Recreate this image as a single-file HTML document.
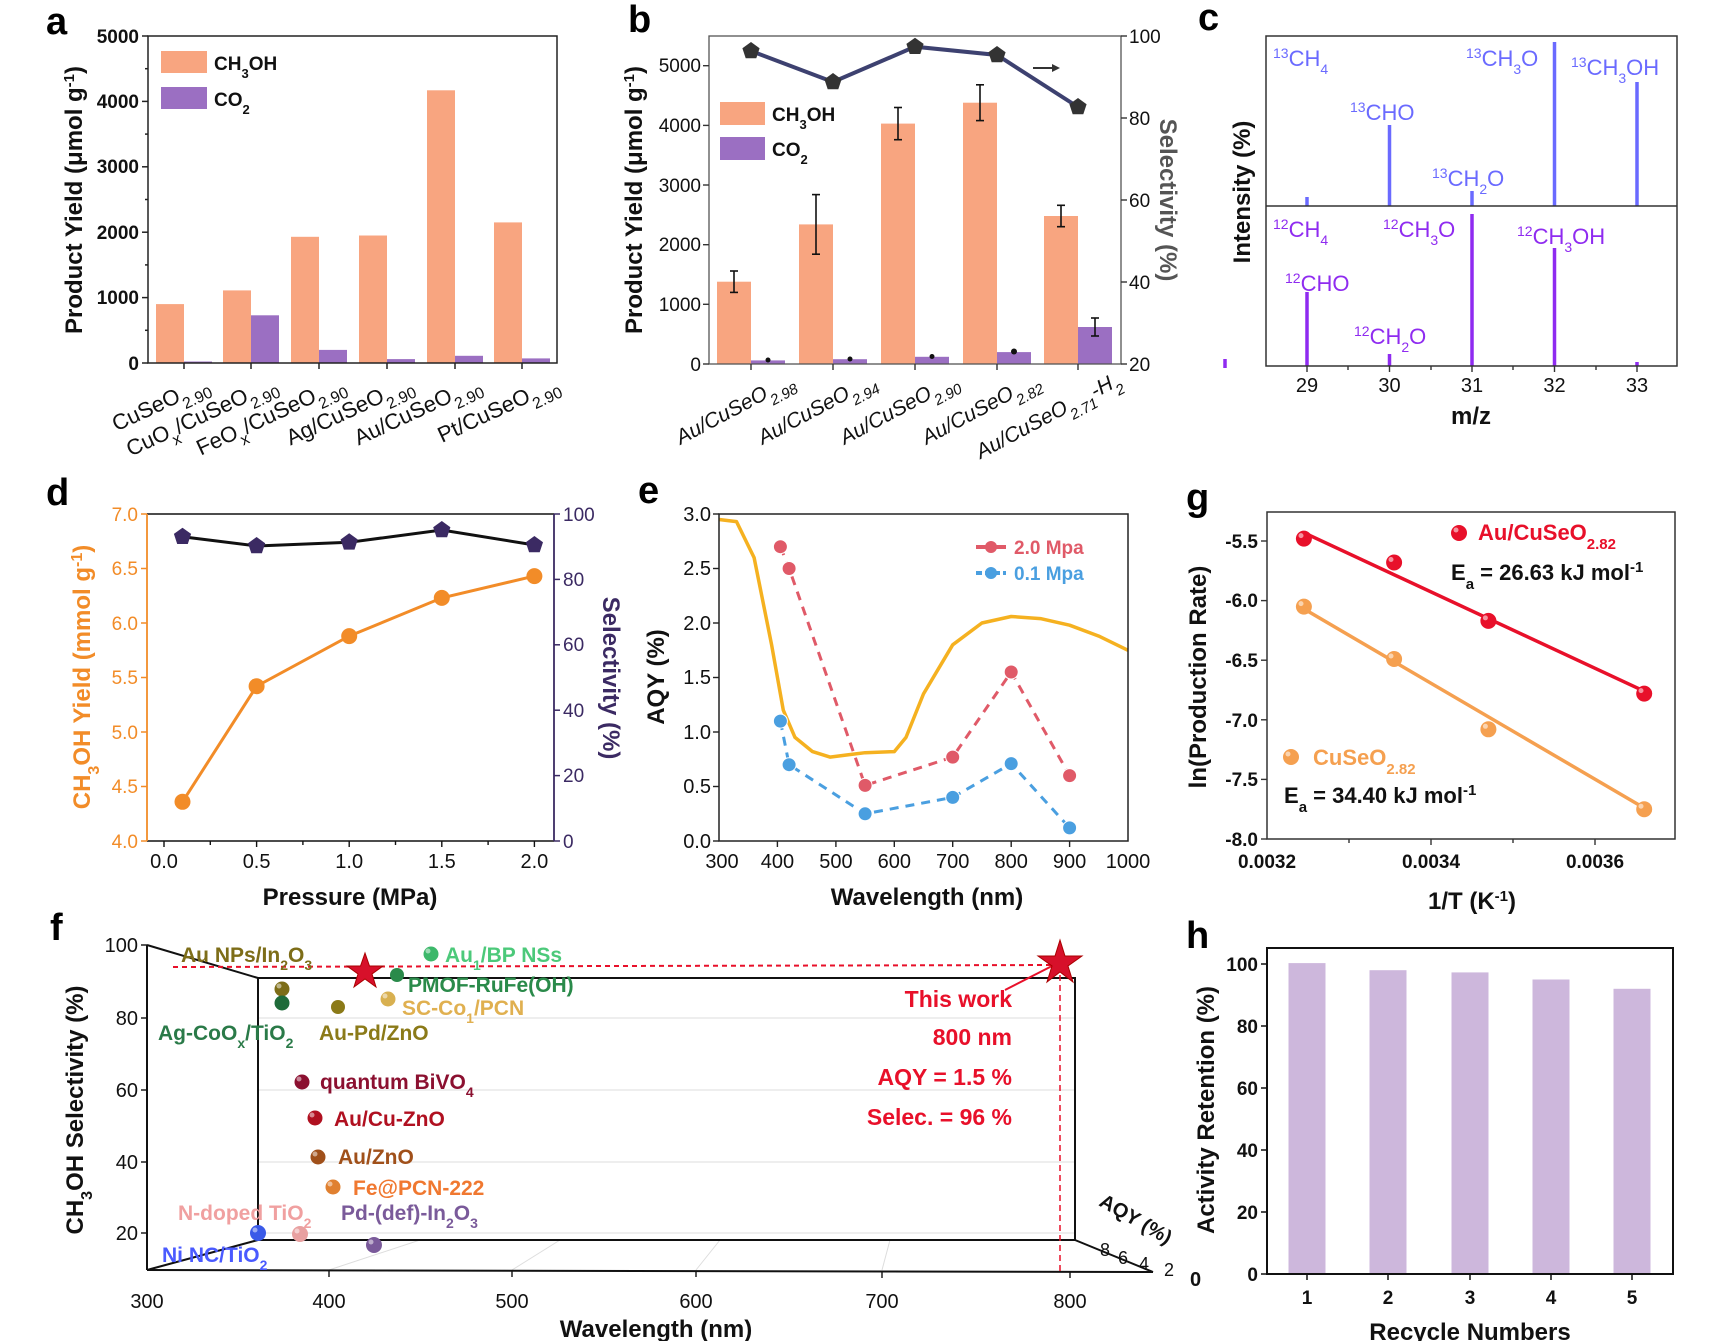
<!DOCTYPE html>
<html><head><meta charset="utf-8"><style>
html,body{margin:0;padding:0;background:#fff}
svg{display:block}
text{font-family:"Liberation Sans",Arial,sans-serif}
.t{font-size:19px;font-weight:bold;fill:#111}
.ti{font-size:24px;font-weight:bold;fill:#111}
.L{font-size:38px;font-weight:bold;fill:#000}
</style></head><body>
<svg width="1731" height="1341" viewBox="0 0 1731 1341" xmlns="http://www.w3.org/2000/svg">
<defs>
<polygon id="pent" points="0,-9 8.6,-2.8 5.3,7.3 -5.3,7.3 -8.6,-2.8"/>
</defs>

<!-- ============ PANEL A ============ -->
<text class="L" x="46" y="34">a</text>
<g>
<rect x="156" y="304.1" width="28" height="58.9" fill="#f8a580"/>
<rect x="223" y="290.4" width="28" height="72.6" fill="#f8a580"/>
<rect x="291" y="236.8" width="28" height="126.2" fill="#f8a580"/>
<rect x="359" y="235.5" width="28" height="127.5" fill="#f8a580"/>
<rect x="427" y="90.3" width="28" height="272.7" fill="#f8a580"/>
<rect x="494" y="222.4" width="28" height="140.6" fill="#f8a580"/>
<rect x="184" y="361.5" width="28" height="1.5" fill="#9b6fc2"/>
<rect x="251" y="315.3" width="28" height="47.7" fill="#9b6fc2"/>
<rect x="319" y="349.9" width="28" height="13.1" fill="#9b6fc2"/>
<rect x="387" y="359.1" width="28" height="3.9" fill="#9b6fc2"/>
<rect x="455" y="355.8" width="28" height="7.2" fill="#9b6fc2"/>
<rect x="522" y="358.4" width="28" height="4.6" fill="#9b6fc2"/>
</g>
<rect x="148" y="36" width="409" height="327" fill="none" stroke="#222" stroke-width="1.5"/>
<g stroke="#222" stroke-width="1.5">
<line x1="148" y1="363" x2="142" y2="363"/><line x1="148" y1="297.6" x2="142" y2="297.6"/><line x1="148" y1="232.2" x2="142" y2="232.2"/><line x1="148" y1="166.8" x2="142" y2="166.8"/><line x1="148" y1="101.4" x2="142" y2="101.4"/><line x1="148" y1="36" x2="142" y2="36"/>
<line x1="148" y1="330.3" x2="145" y2="330.3"/><line x1="148" y1="264.9" x2="145" y2="264.9"/><line x1="148" y1="199.5" x2="145" y2="199.5"/><line x1="148" y1="134.1" x2="145" y2="134.1"/><line x1="148" y1="68.7" x2="145" y2="68.7"/>
<line x1="184" y1="363" x2="184" y2="369"/><line x1="251" y1="363" x2="251" y2="369"/><line x1="319" y1="363" x2="319" y2="369"/><line x1="387" y1="363" x2="387" y2="369"/><line x1="455" y1="363" x2="455" y2="369"/><line x1="522" y1="363" x2="522" y2="369"/>
</g>
<g class="t" text-anchor="end">
<text x="139" y="370">0</text><text x="139" y="304">1000</text><text x="139" y="239">2000</text><text x="139" y="173">3000</text><text x="139" y="108">4000</text><text x="139" y="43">5000</text>
</g>
<text class="ti" transform="translate(82,200) rotate(-90)" text-anchor="middle">Product Yield (μmol g<tspan baseline-shift="super" font-size="15">-1</tspan>)</text>
<rect x="161" y="51" width="46" height="22" fill="#f8a580"/>
<rect x="161" y="87" width="46" height="22" fill="#9b6fc2"/>
<text class="t" x="214" y="70" font-size="20">CH<tspan baseline-shift="sub" font-size="13">3</tspan>OH</text>
<text class="t" x="214" y="106" font-size="20">CO<tspan baseline-shift="sub" font-size="13">2</tspan></text>
<g font-size="22" fill="#111" text-anchor="end">
<text transform="translate(210,388) rotate(-25)">CuSeO<tspan font-size="16" baseline-shift="sub">2.90</tspan></text>
<text transform="translate(278,388) rotate(-25)">CuO<tspan font-size="16" baseline-shift="sub">x</tspan>/CuSeO<tspan font-size="16" baseline-shift="sub">2.90</tspan></text>
<text transform="translate(346,388) rotate(-25)">FeO<tspan font-size="16" baseline-shift="sub">x</tspan>/CuSeO<tspan font-size="16" baseline-shift="sub">2.90</tspan></text>
<text transform="translate(414,388) rotate(-25)">Ag/CuSeO<tspan font-size="16" baseline-shift="sub">2.90</tspan></text>
<text transform="translate(482,388) rotate(-25)">Au/CuSeO<tspan font-size="16" baseline-shift="sub">2.90</tspan></text>
<text transform="translate(560,388) rotate(-25)">Pt/CuSeO<tspan font-size="16" baseline-shift="sub">2.90</tspan></text>
</g>

<!-- ============ PANEL B ============ -->
<text class="L" x="628" y="32">b</text>
<g fill="#f8a580">
<rect x="717" y="281.7" width="34" height="82.3"/><rect x="799" y="224.4" width="34" height="139.6"/><rect x="881" y="123.6" width="34" height="240.4"/><rect x="963" y="102.7" width="34" height="261.3"/><rect x="1044" y="216" width="34" height="148"/>
</g>
<g fill="#9b6fc2">
<rect x="751" y="360.4" width="34" height="3.6"/><rect x="833" y="359.2" width="34" height="4.8"/><rect x="915" y="356.8" width="34" height="7.2"/><rect x="997" y="352.1" width="34" height="11.9"/><rect x="1078" y="327" width="34" height="37"/>
</g>
<g stroke="#111" stroke-width="1.6">
<line x1="734" y1="271" x2="734" y2="292.4"/><line x1="730" y1="271" x2="738" y2="271"/><line x1="730" y1="292.4" x2="738" y2="292.4"/>
<line x1="816" y1="194.6" x2="816" y2="254.2"/><line x1="812" y1="194.6" x2="820" y2="194.6"/><line x1="812" y1="254.2" x2="820" y2="254.2"/>
<line x1="898" y1="107.5" x2="898" y2="139.7"/><line x1="894" y1="107.5" x2="902" y2="107.5"/><line x1="894" y1="139.7" x2="902" y2="139.7"/>
<line x1="980" y1="84.8" x2="980" y2="120.6"/><line x1="976" y1="84.8" x2="984" y2="84.8"/><line x1="976" y1="120.6" x2="984" y2="120.6"/>
<line x1="1061" y1="205.3" x2="1061" y2="226.7"/><line x1="1057" y1="205.3" x2="1065" y2="205.3"/><line x1="1057" y1="226.7" x2="1065" y2="226.7"/>
<line x1="1095" y1="318" x2="1095" y2="336"/><line x1="1091" y1="318" x2="1099" y2="318"/><line x1="1091" y1="336" x2="1099" y2="336"/>
</g>
<g fill="#111"><circle cx="768" cy="360" r="2.5"/><circle cx="850" cy="359" r="2.5"/><circle cx="932" cy="356.5" r="2.5"/><circle cx="1014" cy="351.5" r="3"/></g>
<polyline points="751,51 833,82 915,46.7 997,55 1078,107" fill="none" stroke="#3d4170" stroke-width="4"/>
<g fill="#333"><use href="#pent" x="751" y="51"/><use href="#pent" x="833" y="82"/><use href="#pent" x="915" y="46.7"/><use href="#pent" x="997" y="55"/><use href="#pent" x="1078" y="107"/></g>
<line x1="1033" y1="68" x2="1055" y2="68" stroke="#333" stroke-width="2"/><polygon points="1060,68 1052,64 1052,72" fill="#333"/>
<rect x="709" y="36" width="412" height="328" fill="none" stroke="#555" stroke-width="1.3"/>
<g stroke="#333" stroke-width="1.4">
<line x1="709" y1="364" x2="703" y2="364"/><line x1="709" y1="304.3" x2="703" y2="304.3"/><line x1="709" y1="244.7" x2="703" y2="244.7"/><line x1="709" y1="185" x2="703" y2="185"/><line x1="709" y1="125.4" x2="703" y2="125.4"/><line x1="709" y1="65.7" x2="703" y2="65.7"/>
<line x1="1121" y1="364" x2="1127" y2="364"/><line x1="1121" y1="282" x2="1127" y2="282"/><line x1="1121" y1="200" x2="1127" y2="200"/><line x1="1121" y1="118" x2="1127" y2="118"/><line x1="1121" y1="36" x2="1127" y2="36"/>
<line x1="751" y1="364" x2="751" y2="370"/><line x1="833" y1="364" x2="833" y2="370"/><line x1="915" y1="364" x2="915" y2="370"/><line x1="997" y1="364" x2="997" y2="370"/><line x1="1078" y1="364" x2="1078" y2="370"/>
</g>
<g class="t" text-anchor="end" font-weight="normal" style="font-weight:normal">
<text x="701" y="371">0</text><text x="701" y="311">1000</text><text x="701" y="251">2000</text><text x="701" y="192">3000</text><text x="701" y="132">4000</text><text x="701" y="72">5000</text>
</g>
<g class="t" style="font-weight:normal">
<text x="1129" y="371">20</text><text x="1129" y="289">40</text><text x="1129" y="207">60</text><text x="1129" y="125">80</text><text x="1129" y="43">100</text>
</g>
<text class="ti" transform="translate(642,200) rotate(-90)" text-anchor="middle">Product Yield (μmol g<tspan baseline-shift="super" font-size="15">-1</tspan>)</text>
<text class="ti" transform="translate(1160,200) rotate(90)" text-anchor="middle" style="fill:#555">Selectivity (%)</text>
<rect x="720" y="102" width="45" height="23" fill="#f8a580"/>
<rect x="720" y="137" width="45" height="23" fill="#9b6fc2"/>
<text class="t" x="772" y="121" font-size="20">CH<tspan baseline-shift="sub" font-size="13">3</tspan>OH</text>
<text class="t" x="772" y="156" font-size="20">CO<tspan baseline-shift="sub" font-size="13">2</tspan></text>
<g font-size="21" fill="#111" text-anchor="end" font-style="italic">
<text transform="translate(795,384) rotate(-28)">Au/CuSeO<tspan font-size="15" baseline-shift="sub">2.98</tspan></text>
<text transform="translate(877,384) rotate(-28)">Au/CuSeO<tspan font-size="15" baseline-shift="sub">2.94</tspan></text>
<text transform="translate(959,384) rotate(-28)">Au/CuSeO<tspan font-size="15" baseline-shift="sub">2.90</tspan></text>
<text transform="translate(1041,384) rotate(-28)">Au/CuSeO<tspan font-size="15" baseline-shift="sub">2.82</tspan></text>
<text transform="translate(1122,384) rotate(-28)">Au/CuSeO<tspan font-size="15" baseline-shift="sub">2.71</tspan>-H<tspan font-size="15" baseline-shift="sub">2</tspan></text>
</g>

<!-- ============ PANEL C ============ -->
<text class="L" x="1198" y="30">c</text>
<g stroke="#6a6aff" stroke-width="3.5">
<line x1="1307" y1="206" x2="1307" y2="197"/><line x1="1389.5" y1="206" x2="1389.5" y2="125"/><line x1="1472" y1="206" x2="1472" y2="191"/><line x1="1554.5" y1="206" x2="1554.5" y2="42"/><line x1="1637" y1="206" x2="1637" y2="82"/>
</g>
<g stroke="#8f2bf0" stroke-width="3.5">
<line x1="1307" y1="366" x2="1307" y2="292"/><line x1="1389.5" y1="366" x2="1389.5" y2="354"/><line x1="1472" y1="366" x2="1472" y2="214"/><line x1="1554.5" y1="366" x2="1554.5" y2="248"/><line x1="1637" y1="366" x2="1637" y2="362"/>
<line x1="1225" y1="359" x2="1225" y2="368"/>
</g>
<rect x="1266" y="36" width="411" height="330" fill="none" stroke="#333" stroke-width="1.5"/>
<line x1="1266" y1="206" x2="1677" y2="206" stroke="#333" stroke-width="1.5"/>
<g stroke="#333" stroke-width="1.4">
<line x1="1307" y1="366" x2="1307" y2="372"/><line x1="1389.5" y1="366" x2="1389.5" y2="372"/><line x1="1472" y1="366" x2="1472" y2="372"/><line x1="1554.5" y1="366" x2="1554.5" y2="372"/><line x1="1637" y1="366" x2="1637" y2="372"/>
<line x1="1348" y1="366" x2="1348" y2="370"/><line x1="1431" y1="366" x2="1431" y2="370"/><line x1="1513" y1="366" x2="1513" y2="370"/><line x1="1596" y1="366" x2="1596" y2="370"/>
</g>
<g class="t" text-anchor="middle" style="font-weight:normal;font-size:20px">
<text x="1307" y="392">29</text><text x="1389.5" y="392">30</text><text x="1472" y="392">31</text><text x="1554.5" y="392">32</text><text x="1637" y="392">33</text>
</g>
<text class="ti" x="1471" y="424" text-anchor="middle">m/z</text>
<text class="ti" transform="translate(1250,192) rotate(-90)" text-anchor="middle">Intensity (%)</text>
<g font-size="22" fill="#6a6aff">
<text x="1273" y="66"><tspan font-size="14" baseline-shift="super">13</tspan>CH<tspan font-size="14" baseline-shift="sub">4</tspan></text>
<text x="1466" y="66"><tspan font-size="14" baseline-shift="super">13</tspan>CH<tspan font-size="14" baseline-shift="sub">3</tspan>O</text>
<text x="1571" y="75"><tspan font-size="14" baseline-shift="super">13</tspan>CH<tspan font-size="14" baseline-shift="sub">3</tspan>OH</text>
<text x="1350" y="120"><tspan font-size="14" baseline-shift="super">13</tspan>CHO</text>
<text x="1432" y="186"><tspan font-size="14" baseline-shift="super">13</tspan>CH<tspan font-size="14" baseline-shift="sub">2</tspan>O</text>
</g>
<g font-size="22" fill="#8f2bf0">
<text x="1273" y="237"><tspan font-size="14" baseline-shift="super">12</tspan>CH<tspan font-size="14" baseline-shift="sub">4</tspan></text>
<text x="1383" y="237"><tspan font-size="14" baseline-shift="super">12</tspan>CH<tspan font-size="14" baseline-shift="sub">3</tspan>O</text>
<text x="1517" y="244"><tspan font-size="14" baseline-shift="super">12</tspan>CH<tspan font-size="14" baseline-shift="sub">3</tspan>OH</text>
<text x="1285" y="291"><tspan font-size="14" baseline-shift="super">12</tspan>CHO</text>
<text x="1354" y="344"><tspan font-size="14" baseline-shift="super">12</tspan>CH<tspan font-size="14" baseline-shift="sub">2</tspan>O</text>
</g>

<!-- ============ PANEL D ============ -->
<text class="L" x="46" y="505">d</text>
<polyline points="182.5,801.8 256.6,686.2 349.2,636.1 441.8,597.9 534.4,576.1" fill="none" stroke="#f28c28" stroke-width="3"/>
<g fill="#f28c28"><circle cx="182.5" cy="801.8" r="8"/><circle cx="256.6" cy="686.2" r="8"/><circle cx="349.2" cy="636.1" r="8"/><circle cx="441.8" cy="597.9" r="8"/><circle cx="534.4" cy="576.1" r="8"/></g>
<polyline points="182.5,536.7 256.6,546 349.2,542.3 441.8,530 534.4,545" fill="none" stroke="#111" stroke-width="3"/>
<g fill="#3b2a63"><use href="#pent" x="182.5" y="536.7"/><use href="#pent" x="256.6" y="546"/><use href="#pent" x="349.2" y="542.3"/><use href="#pent" x="441.8" y="530"/><use href="#pent" x="534.4" y="545"/></g>
<line x1="147" y1="514" x2="554" y2="514" stroke="#111" stroke-width="1.5"/>
<line x1="147" y1="841" x2="554" y2="841" stroke="#111" stroke-width="1.5"/>
<line x1="147" y1="514" x2="147" y2="841" stroke="#f28c28" stroke-width="1.8"/>
<line x1="554" y1="514" x2="554" y2="841" stroke="#3b2a63" stroke-width="1.8"/>
<g stroke="#f28c28" stroke-width="1.5">
<line x1="147" y1="841" x2="141" y2="841"/><line x1="147" y1="786.5" x2="141" y2="786.5"/><line x1="147" y1="732" x2="141" y2="732"/><line x1="147" y1="677.5" x2="141" y2="677.5"/><line x1="147" y1="623" x2="141" y2="623"/><line x1="147" y1="568.5" x2="141" y2="568.5"/><line x1="147" y1="514" x2="141" y2="514"/>
</g>
<g stroke="#3b2a63" stroke-width="1.5">
<line x1="554" y1="841" x2="560" y2="841"/><line x1="554" y1="775.6" x2="560" y2="775.6"/><line x1="554" y1="710.2" x2="560" y2="710.2"/><line x1="554" y1="644.8" x2="560" y2="644.8"/><line x1="554" y1="579.4" x2="560" y2="579.4"/><line x1="554" y1="514" x2="560" y2="514"/>
</g>
<g stroke="#111" stroke-width="1.4">
<line x1="164" y1="841" x2="164" y2="847"/><line x1="256.6" y1="841" x2="256.6" y2="847"/><line x1="349.2" y1="841" x2="349.2" y2="847"/><line x1="441.8" y1="841" x2="441.8" y2="847"/><line x1="534.4" y1="841" x2="534.4" y2="847"/>
<line x1="210.3" y1="841" x2="210.3" y2="845"/><line x1="302.9" y1="841" x2="302.9" y2="845"/><line x1="395.5" y1="841" x2="395.5" y2="845"/><line x1="488.1" y1="841" x2="488.1" y2="845"/>
</g>
<g class="t" text-anchor="end" style="fill:#f28c28;font-weight:normal">
<text x="138" y="848">4.0</text><text x="138" y="793">4.5</text><text x="138" y="739">5.0</text><text x="138" y="684">5.5</text><text x="138" y="630">6.0</text><text x="138" y="575">6.5</text><text x="138" y="521">7.0</text>
</g>
<g class="t" style="fill:#3b2a63;font-weight:normal">
<text x="563" y="848">0</text><text x="563" y="782">20</text><text x="563" y="717">40</text><text x="563" y="651">60</text><text x="563" y="586">80</text><text x="563" y="521">100</text>
</g>
<g class="t" text-anchor="middle" style="font-weight:normal;font-size:20px">
<text x="164" y="868">0.0</text><text x="256.6" y="868">0.5</text><text x="349.2" y="868">1.0</text><text x="441.8" y="868">1.5</text><text x="534.4" y="868">2.0</text>
</g>
<text class="ti" x="350" y="905" text-anchor="middle">Pressure (MPa)</text>
<text class="ti" transform="translate(90,677) rotate(-90)" text-anchor="middle" style="fill:#f28c28">CH<tspan baseline-shift="sub" font-size="16">3</tspan>OH Yield (mmol g<tspan baseline-shift="super" font-size="16">-1</tspan>)</text>
<text class="ti" transform="translate(603,678) rotate(90)" text-anchor="middle" style="fill:#3b2a63">Selectivity (%)</text>

<!-- ============ PANEL E ============ -->
<text class="L" x="638" y="503">e</text>
<polyline points="719,519.5 736.5,521.6 754.1,557.6 771.6,644.8 783.3,710.2 795,737.4 812.5,751.6 830,757.1 847.5,754.9 865.1,752.7 894.3,751.6 906,737.4 923.5,693.9 952.7,644.8 981.9,623 1011.2,616.5 1040.4,618.6 1069.6,625.2 1098.8,636.1 1128,650.3" fill="none" stroke="#f5b120" stroke-width="3.5" stroke-linejoin="round"/>
<polyline points="780.4,546.7 789.1,568.5 865.1,785.4 952.7,757.1 1011.2,672 1069.6,775.6" fill="none" stroke="#e05a68" stroke-width="3" stroke-dasharray="9,7"/>
<polyline points="780.4,721.1 789.1,764.7 865.1,813.8 952.7,797.4 1011.2,763.6 1069.6,827.9" fill="none" stroke="#4a9fe0" stroke-width="3" stroke-dasharray="9,7"/>
<g fill="#e05a68" stroke="#fff" stroke-width="1"><circle cx="780.4" cy="546.7" r="7"/><circle cx="789.1" cy="568.5" r="7"/><circle cx="865.1" cy="785.4" r="7"/><circle cx="952.7" cy="757.1" r="7"/><circle cx="1011.2" cy="672" r="7"/><circle cx="1069.6" cy="775.6" r="7"/></g>
<g fill="#4a9fe0" stroke="#fff" stroke-width="1"><circle cx="780.4" cy="721.1" r="7"/><circle cx="789.1" cy="764.7" r="7"/><circle cx="865.1" cy="813.8" r="7"/><circle cx="952.7" cy="797.4" r="7"/><circle cx="1011.2" cy="763.6" r="7"/><circle cx="1069.6" cy="827.9" r="7"/></g>
<line x1="976" y1="547" x2="1006" y2="547" stroke="#e05a68" stroke-width="4"/><circle cx="991" cy="547" r="6" fill="#e05a68"/>
<line x1="976" y1="573" x2="1006" y2="573" stroke="#4a9fe0" stroke-width="4" stroke-dasharray="6,3"/><circle cx="991" cy="573" r="6" fill="#4a9fe0"/>
<text x="1014" y="554" font-size="19" font-weight="bold" fill="#e05a68">2.0 Mpa</text>
<text x="1014" y="580" font-size="19" font-weight="bold" fill="#4a9fe0">0.1 Mpa</text>
<rect x="719" y="514" width="409" height="327" fill="none" stroke="#222" stroke-width="1.5"/>
<g stroke="#222" stroke-width="1.4">
<line x1="719" y1="841" x2="713" y2="841"/><line x1="719" y1="786.5" x2="713" y2="786.5"/><line x1="719" y1="732" x2="713" y2="732"/><line x1="719" y1="677.5" x2="713" y2="677.5"/><line x1="719" y1="623" x2="713" y2="623"/><line x1="719" y1="568.5" x2="713" y2="568.5"/><line x1="719" y1="514" x2="713" y2="514"/>
<line x1="777.4" y1="841" x2="777.4" y2="847"/><line x1="835.9" y1="841" x2="835.9" y2="847"/><line x1="894.3" y1="841" x2="894.3" y2="847"/><line x1="952.7" y1="841" x2="952.7" y2="847"/><line x1="1011.2" y1="841" x2="1011.2" y2="847"/><line x1="1069.6" y1="841" x2="1069.6" y2="847"/>
</g>
<g class="t" text-anchor="end" style="font-weight:normal;font-size:20px">
<text x="711" y="848">0.0</text><text x="711" y="793">0.5</text><text x="711" y="739">1.0</text><text x="711" y="684">1.5</text><text x="711" y="630">2.0</text><text x="711" y="575">2.5</text><text x="711" y="521">3.0</text>
</g>
<g class="t" text-anchor="middle" style="font-weight:normal;font-size:20px">
<text x="722" y="868">300</text><text x="777.4" y="868">400</text><text x="835.9" y="868">500</text><text x="894.3" y="868">600</text><text x="952.7" y="868">700</text><text x="1011.2" y="868">800</text><text x="1069.6" y="868">900</text><text x="1128" y="868">1000</text>
</g>
<text class="ti" x="927" y="905" text-anchor="middle">Wavelength (nm)</text>
<text class="ti" transform="translate(664,677) rotate(-90)" text-anchor="middle">AQY (%)</text>

<!-- ============ PANEL G ============ -->
<text class="L" x="1186" y="510">g</text>
<line x1="1303.9" y1="532.7" x2="1644.2" y2="691.2" stroke="#e8102a" stroke-width="3.5"/>
<line x1="1303.9" y1="608.9" x2="1644.2" y2="808" stroke="#f5a050" stroke-width="3.5"/>
<g fill="#e8102a"><circle cx="1303.9" cy="538.6" r="8"/><circle cx="1394.1" cy="562.5" r="8"/><circle cx="1488.4" cy="620.9" r="8"/><circle cx="1644.2" cy="693.6" r="8"/><circle cx="1459" cy="533" r="8"/></g>
<g fill="#f5a050"><circle cx="1303.9" cy="606.6" r="8"/><circle cx="1394.1" cy="659" r="8"/><circle cx="1488.4" cy="729.3" r="8"/><circle cx="1644.2" cy="809.2" r="8"/><circle cx="1291" cy="757" r="8"/></g>
<g fill="#fff" opacity="0.55"><circle cx="1301" cy="535.6" r="2.5"/><circle cx="1391" cy="559.5" r="2.5"/><circle cx="1485.4" cy="617.9" r="2.5"/><circle cx="1641" cy="690.6" r="2.5"/><circle cx="1456" cy="530" r="2.5"/><circle cx="1301" cy="603.6" r="2.5"/><circle cx="1391" cy="656" r="2.5"/><circle cx="1485.4" cy="726.3" r="2.5"/><circle cx="1641" cy="806.2" r="2.5"/><circle cx="1288" cy="754" r="2.5"/></g>
<text x="1478" y="540" font-size="22" font-weight="bold" fill="#e8102a">Au/CuSeO<tspan font-size="15" baseline-shift="sub">2.82</tspan></text>
<text x="1451" y="580" font-size="22" font-weight="bold" fill="#111">E<tspan font-size="15" baseline-shift="sub">a</tspan> = 26.63 kJ mol<tspan font-size="15" baseline-shift="super">-1</tspan></text>
<text x="1313" y="765" font-size="22" font-weight="bold" fill="#f5a050">CuSeO<tspan font-size="15" baseline-shift="sub">2.82</tspan></text>
<text x="1284" y="803" font-size="22" font-weight="bold" fill="#111">E<tspan font-size="15" baseline-shift="sub">a</tspan> = 34.40 kJ mol<tspan font-size="15" baseline-shift="super">-1</tspan></text>
<rect x="1267" y="512" width="408" height="327" fill="none" stroke="#333" stroke-width="1.5"/>
<g stroke="#333" stroke-width="1.4">
<line x1="1267" y1="541" x2="1261" y2="541"/><line x1="1267" y1="600.6" x2="1261" y2="600.6"/><line x1="1267" y1="660.2" x2="1261" y2="660.2"/><line x1="1267" y1="719.8" x2="1261" y2="719.8"/><line x1="1267" y1="779.4" x2="1261" y2="779.4"/><line x1="1267" y1="839" x2="1261" y2="839"/>
<line x1="1431" y1="839" x2="1431" y2="845"/><line x1="1595" y1="839" x2="1595" y2="845"/><line x1="1349" y1="839" x2="1349" y2="843"/><line x1="1513" y1="839" x2="1513" y2="843"/>
</g>
<g class="t" text-anchor="end">
<text x="1258" y="548">-5.5</text><text x="1258" y="607">-6.0</text><text x="1258" y="667">-6.5</text><text x="1258" y="727">-7.0</text><text x="1258" y="786">-7.5</text><text x="1258" y="846">-8.0</text>
</g>
<g class="t" text-anchor="middle">
<text x="1267" y="868">0.0032</text><text x="1431" y="868">0.0034</text><text x="1595" y="868">0.0036</text>
</g>
<text class="ti" x="1472" y="909" text-anchor="middle">1/T (K<tspan font-size="15" baseline-shift="super">-1</tspan>)</text>
<text class="ti" transform="translate(1206,677) rotate(-90)" text-anchor="middle">ln(Production Rate)</text>

<!-- ============ PANEL F ============ -->
<text class="L" x="50" y="940">f</text>
<g stroke="#ddd" stroke-width="1">
<line x1="258" y1="1018" x2="1075" y2="1018"/><line x1="258" y1="1090" x2="1075" y2="1090"/><line x1="258" y1="1162" x2="1075" y2="1162"/><line x1="258" y1="1233" x2="1075" y2="1233"/>
<line x1="329" y1="1270" x2="420" y2="1240"/><line x1="512" y1="1270" x2="560" y2="1240"/><line x1="696" y1="1270" x2="720" y2="1240"/><line x1="882" y1="1270" x2="890" y2="1240"/>
</g>
<g stroke="#111" stroke-width="2" fill="none">
<rect x="258" y="978" width="817" height="262"/>
<line x1="147" y1="945" x2="258" y2="978"/>
<line x1="147" y1="1270" x2="258" y2="1240"/>
<line x1="1075" y1="1240" x2="1153" y2="1272"/>
<line x1="147" y1="1270" x2="1153" y2="1272"/>
<line x1="147" y1="945" x2="147" y2="1270"/>
</g>
<g stroke="#111" stroke-width="1.4">
<line x1="147" y1="945" x2="141" y2="945"/><line x1="147" y1="1018" x2="141" y2="1018"/><line x1="147" y1="1090" x2="141" y2="1090"/><line x1="147" y1="1162" x2="141" y2="1162"/><line x1="147" y1="1233" x2="141" y2="1233"/>
<line x1="329" y1="1271" x2="329" y2="1277"/><line x1="512" y1="1271" x2="512" y2="1277"/><line x1="696" y1="1271" x2="696" y2="1277"/><line x1="882" y1="1272" x2="882" y2="1278"/><line x1="1070" y1="1272" x2="1070" y2="1278"/>
</g>
<g class="t" text-anchor="end" style="font-weight:normal;font-size:20px">
<text x="138" y="952">100</text><text x="138" y="1025">80</text><text x="138" y="1097">60</text><text x="138" y="1169">40</text><text x="138" y="1240">20</text>
</g>
<g class="t" text-anchor="middle" style="font-weight:normal;font-size:20px">
<text x="147" y="1308">300</text><text x="329" y="1308">400</text><text x="512" y="1308">500</text><text x="696" y="1308">600</text><text x="882" y="1308">700</text><text x="1070" y="1308">800</text>
</g>
<text class="ti" x="656" y="1337" text-anchor="middle">Wavelength (nm)</text>
<text class="ti" transform="translate(83,1110) rotate(-90)" text-anchor="middle">CH<tspan baseline-shift="sub" font-size="16">3</tspan>OH Selectivity (%)</text>
<text transform="translate(1098,1205) rotate(30)" font-size="20" font-weight="bold" fill="#111">AQY (%)</text>
<g font-size="18" fill="#111">
<text x="1100" y="1256">8</text><text x="1118" y="1264">6</text><text x="1139" y="1270">4</text><text x="1164" y="1276">2</text><text x="1190" y="1286" font-size="20" font-weight="bold">0</text>
</g>
<!-- dashed lines -->
<line x1="173" y1="967" x2="1054" y2="965" stroke="#e8102a" stroke-width="2" stroke-dasharray="5,4"/>
<line x1="1060" y1="965" x2="1060" y2="1272" stroke="#e8102a" stroke-width="1.5" stroke-dasharray="6,4"/>
<line x1="1005" y1="990" x2="1052" y2="966" stroke="#e8102a" stroke-width="2"/>
<polygon points="365,953 369.5,966 383,966 372,974 376,987 365,979 354,987 358,974 347,966 360.5,966" fill="#d7102a" stroke="#a00" stroke-width="1"/>
<polygon points="1060,940 1065,956 1082,956 1068,966 1073,982 1060,972 1047,982 1052,966 1038,956 1055,956" fill="#d7102a" stroke="#a00" stroke-width="1"/>
<g font-size="23" font-weight="bold" fill="#e8102a" text-anchor="end">
<text x="1012" y="1007">This work</text><text x="1012" y="1045">800 nm</text><text x="1012" y="1085">AQY = 1.5 %</text><text x="1012" y="1125">Selec. = 96 %</text>
</g>
<!-- balls -->
<g>
<circle cx="282" cy="989" r="7.5" fill="#7d6d18"/>
<circle cx="431" cy="954" r="7.5" fill="#3cb86a"/>
<circle cx="397" cy="975" r="7" fill="#2a8a4a"/>
<circle cx="388" cy="999" r="7.5" fill="#d8b050"/>
<circle cx="282" cy="1003" r="7.5" fill="#1f6b3a"/>
<circle cx="338" cy="1007" r="7" fill="#8b7a18"/>
<circle cx="302" cy="1082" r="7.5" fill="#8b1030"/>
<circle cx="315" cy="1118" r="7.5" fill="#b01020"/>
<circle cx="318" cy="1157" r="7.5" fill="#a0501a"/>
<circle cx="333" cy="1187" r="7.5" fill="#e08030"/>
<circle cx="300" cy="1234" r="8" fill="#e8a0a0"/>
<circle cx="374" cy="1245" r="8" fill="#7a5a9a"/>
<circle cx="258" cy="1233" r="8" fill="#3a5ae8"/>
</g>
<g fill="#fff" opacity="0.5">
<circle cx="279" cy="986" r="2.5"/><circle cx="428" cy="951" r="2.5"/><circle cx="385" cy="996" r="2.5"/><circle cx="299" cy="1079" r="2.5"/><circle cx="312" cy="1115" r="2.5"/><circle cx="315" cy="1154" r="2.5"/><circle cx="330" cy="1184" r="2.5"/><circle cx="297" cy="1231" r="2.5"/><circle cx="371" cy="1242" r="2.5"/><circle cx="255" cy="1230" r="2.5"/>
</g>
<g font-size="21" font-weight="bold">
<text x="181" y="962" fill="#7d6d18">Au NPs/In<tspan font-size="14" baseline-shift="sub">2</tspan>O<tspan font-size="14" baseline-shift="sub">3</tspan></text>
<text x="445" y="962" fill="#4cc97a">Au<tspan font-size="14" baseline-shift="sub">1</tspan>/BP NSs</text>
<text x="408" y="992" fill="#2a8a4a">PMOF-RuFe(OH)</text>
<text x="402" y="1015" fill="#e0b050">SC-Co<tspan font-size="14" baseline-shift="sub">1</tspan>/PCN</text>
<text x="158" y="1040" fill="#2a7a48">Ag-CoO<tspan font-size="14" baseline-shift="sub">x</tspan>/TiO<tspan font-size="14" baseline-shift="sub">2</tspan></text>
<text x="319" y="1040" fill="#8b7a18">Au-Pd/ZnO</text>
<text x="320" y="1089" fill="#8b1030">quantum BiVO<tspan font-size="14" baseline-shift="sub">4</tspan></text>
<text x="334" y="1126" fill="#b01020">Au/Cu-ZnO</text>
<text x="338" y="1164" fill="#a0501a">Au/ZnO</text>
<text x="353" y="1195" fill="#f07830">Fe@PCN-222</text>
<text x="178" y="1220" fill="#f0a0a0">N-doped TiO<tspan font-size="14" baseline-shift="sub">2</tspan></text>
<text x="341" y="1220" fill="#7a5a9a">Pd-(def)-In<tspan font-size="14" baseline-shift="sub">2</tspan>O<tspan font-size="14" baseline-shift="sub">3</tspan></text>
<text x="162" y="1262" fill="#4a5aff">Ni NC/TiO<tspan font-size="14" baseline-shift="sub">2</tspan></text>
</g>

<!-- ============ PANEL H ============ -->
<text class="L" x="1186" y="948">h</text>
<g fill="#cdb7dc">
<rect x="1288.5" y="963.1" width="37" height="310.9"/><rect x="1369.5" y="970.2" width="37" height="303.8"/><rect x="1451.5" y="972.4" width="37" height="301.6"/><rect x="1532.5" y="979.5" width="37" height="294.5"/><rect x="1613.5" y="988.8" width="37" height="285.2"/>
</g>
<rect x="1267" y="948" width="406" height="326" fill="none" stroke="#111" stroke-width="2"/>
<g stroke="#111" stroke-width="1.5">
<line x1="1267" y1="1274" x2="1261" y2="1274"/><line x1="1267" y1="1212" x2="1261" y2="1212"/><line x1="1267" y1="1150" x2="1261" y2="1150"/><line x1="1267" y1="1088" x2="1261" y2="1088"/><line x1="1267" y1="1026" x2="1261" y2="1026"/><line x1="1267" y1="964" x2="1261" y2="964"/>
<line x1="1307" y1="1274" x2="1307" y2="1280"/><line x1="1388" y1="1274" x2="1388" y2="1280"/><line x1="1470" y1="1274" x2="1470" y2="1280"/><line x1="1551" y1="1274" x2="1551" y2="1280"/><line x1="1632" y1="1274" x2="1632" y2="1280"/>
</g>
<g class="t" text-anchor="end">
<text x="1258" y="1281">0</text><text x="1258" y="1219">20</text><text x="1258" y="1157">40</text><text x="1258" y="1095">60</text><text x="1258" y="1033">80</text><text x="1258" y="971">100</text>
</g>
<g class="t" text-anchor="middle">
<text x="1307" y="1304">1</text><text x="1388" y="1304">2</text><text x="1470" y="1304">3</text><text x="1551" y="1304">4</text><text x="1632" y="1304">5</text>
</g>
<text class="ti" x="1470" y="1340" text-anchor="middle">Recycle Numbers</text>
<text class="ti" transform="translate(1214,1110) rotate(-90)" text-anchor="middle">Activity Retention (%)</text>
</svg>
</body></html>
